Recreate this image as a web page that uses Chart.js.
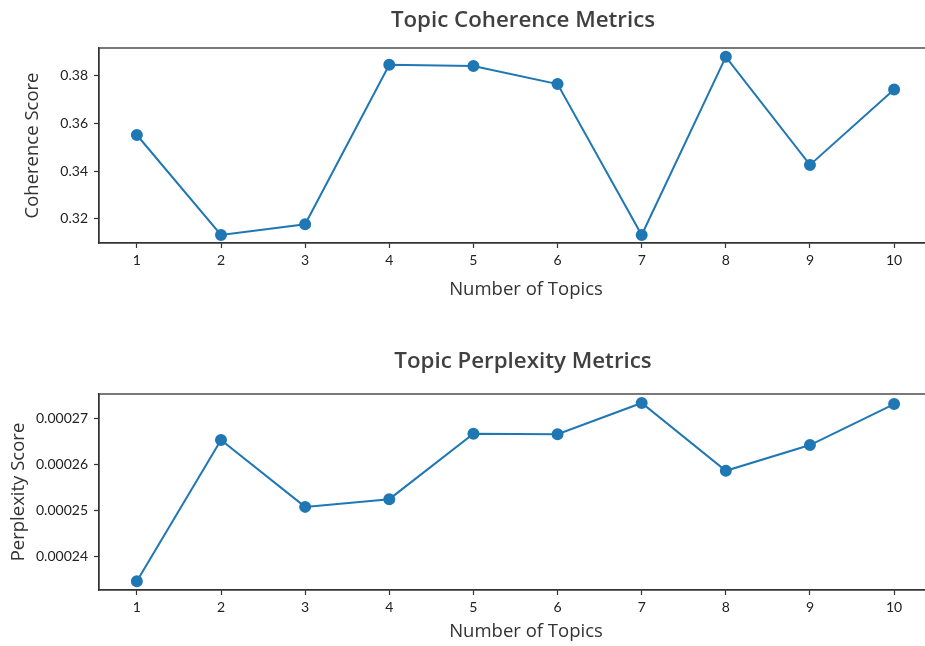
<!DOCTYPE html>
<html>
<head>
<meta charset="utf-8">
<script src="https://cdn.jsdelivr.net/npm/chart.js@4.4.0/dist/chart.umd.min.js"></script>
<style>
    html, body { margin: 0; padding: 0; background: #fff; overflow: hidden; width: 925px; height: 646px; }
    .box { position: absolute; left: 0; width: 960px; height: 323px; }
</style>
</head>
<body>
<div class="box" style="top:0"><canvas id="coherenceChart" width="960" height="323"></canvas></div>
<div class="box" style="top:323px"><canvas id="perplexityChart" width="960" height="323"></canvas></div>
<script>
// number of topics tried
var topics = [1, 2, 3, 4, 5, 6, 7, 8, 9, 10];
var coherenceScores = [0.3551, 0.3133, 0.3178, 0.3845, 0.3839, 0.3764, 0.3133, 0.3878, 0.3426, 0.3741];
var perplexityScores = [0.00023467, 0.00026523, 0.00025077, 0.00025244, 0.0002666, 0.0002665, 0.00027325, 0.00025858, 0.00026415, 0.00027303];

var xTicks = [1, 2, 3, 4, 5, 6, 7, 8, 9, 10];
var coherenceTicks = [0.32, 0.34, 0.36, 0.38];
var coherenceTickLabels = ['0.32', '0.34', '0.36', '0.38'];
var perplexityTicks = [0.00024, 0.00025, 0.00026, 0.00027];
var perplexityTickLabels = ['0.00024', '0.00025', '0.00026', '0.00027'];

var blue = '#1f77b4';
var axisColor = '#333333';
var tickFont = { family: 'Lato, "Noto Sans", sans-serif', size: 14 };
var labelFont = { family: '"Open Sans", "Noto Sans", sans-serif', size: 18.5, lineHeight: 1 };

// frame around the plot area plus a title centred over it
var framePlugin = {
    id: 'frame',
    afterDraw: function (chart, args, opts) {
        var ctx = chart.ctx;
        var a = chart.chartArea;
        ctx.save();
        ctx.strokeStyle = axisColor;
        ctx.lineWidth = 1.3;
        ctx.strokeRect(a.left, a.top, a.right - a.left, a.bottom - a.top);
        ctx.fillStyle = '#404040';
        ctx.font = '600 22.3px "Open Sans", "Noto Sans", sans-serif';
        ctx.textAlign = 'center';
        ctx.textBaseline = 'alphabetic';
        ctx.fillText(opts.text, (a.left + a.right) / 2 - 3, opts.baseline);
        ctx.restore();
    }
};

function makeChart(id, values, yTicks, yLabels, cfg) {
    var points = topics.map(function (t, i) { return { x: t, y: values[i] }; });
    return new Chart(document.getElementById(id), {
        type: 'line',
        data: {
            datasets: [{
                data: points,
                borderColor: blue,
                backgroundColor: blue,
                borderWidth: 2,
                pointRadius: 5,
                pointHoverRadius: 5,
                tension: 0
            }]
        },
        plugins: [framePlugin],
        options: {
            responsive: false,
            animation: false,
            layout: { padding: { top: cfg.top, right: 5, left: 0, bottom: 0 } },
            plugins: {
                legend: { display: false },
                tooltip: { enabled: false },
                frame: { text: cfg.title, baseline: cfg.titleBaseline }
            },
            scales: {
                x: {
                    type: 'linear',
                    min: 0.55,
                    max: 10.7,
                    afterBuildTicks: function (scale) {
                        scale.ticks = xTicks.map(function (v) { return { value: v }; });
                    },
                    afterFit: function (scale) { scale.height = cfg.xHeight; },
                    ticks: {
                        color: '#222',
                        font: tickFont,
                        padding: 4,
                        maxRotation: 0,
                        callback: function (v) { return String(v); }
                    },
                    grid: { drawOnChartArea: false, drawTicks: true, tickLength: 5, tickWidth: 1.2, color: axisColor },
                    border: { display: true, color: axisColor, width: 1.3 },
                    title: {
                        display: true,
                        text: 'Number of Topics',
                        color: '#333',
                        font: labelFont,
                        padding: { top: 0, bottom: cfg.xTitlePad }
                    }
                },
                y: {
                    type: 'linear',
                    min: cfg.yMin,
                    max: cfg.yMax,
                    afterBuildTicks: function (scale) {
                        scale.ticks = yTicks.map(function (v) { return { value: v }; });
                    },
                    afterFit: function (scale) { scale.width = 99; },
                    ticks: {
                        color: '#222',
                        font: tickFont,
                        padding: 6,
                        callback: function (v, i) { return yLabels[i]; }
                    },
                    grid: { drawOnChartArea: false, drawTicks: true, tickLength: 5, tickWidth: 1.2, color: axisColor },
                    border: { display: true, color: axisColor, width: 1.3 },
                    title: {
                        display: true,
                        text: cfg.yTitle,
                        color: '#333',
                        font: labelFont,
                        padding: { top: cfg.yTitlePad, bottom: 0 }
                    }
                }
            }
        }
    });
}

makeChart('coherenceChart', coherenceScores, coherenceTicks, coherenceTickLabels, {
    title: 'Topic Coherence Metrics',
    titleBaseline: 27,
    yTitle: 'Coherence Score',
    top: 48,
    xHeight: 80,
    xTitlePad: 24,
    yTitlePad: 23,
    yMin: 0.30995,
    yMax: 0.39147
});

makeChart('perplexityChart', perplexityScores, perplexityTicks, perplexityTickLabels, {
    title: 'Topic Perplexity Metrics',
    titleBaseline: 45,
    yTitle: 'Perplexity Score',
    top: 71,
    xHeight: 56,
    xTitlePad: 5,
    yTitlePad: 9.5,
    yMin: 0.00023278,
    yMax: 0.0002752
});
</script>
</body>
</html>
